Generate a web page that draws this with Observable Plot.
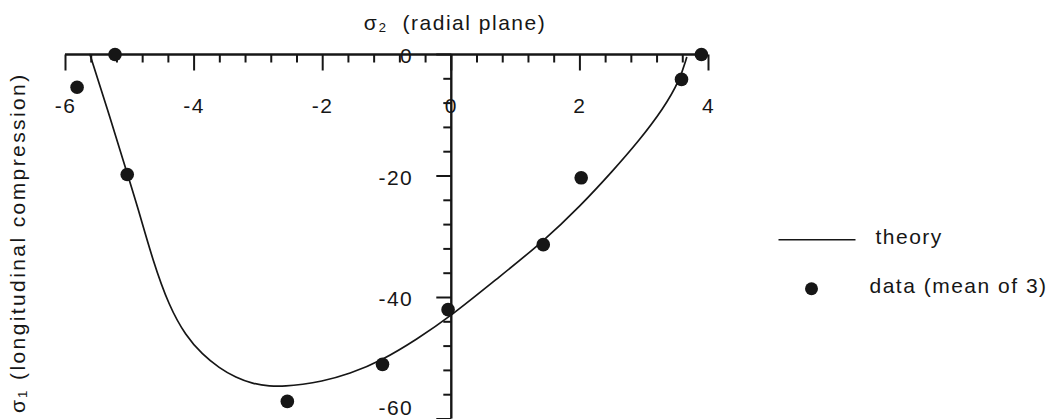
<!DOCTYPE html>
<html>
<head>
<meta charset="utf-8">
<script src="https://cdn.jsdelivr.net/npm/d3@7"></script>
<script src="https://cdn.jsdelivr.net/npm/@observablehq/plot@0.6"></script>
<style>
html, body { margin: 0; padding: 0; background: #fff; }
#chart svg text { letter-spacing: 1.5px; }
</style>
</head>
<body>
<div id="chart"></div>
<script>
// Theory curve (sigma2, sigma1)
const theoryX = [-5.62, -5.3, -5.04, -4.88, -4.64, -4.39, -4.13, -3.87, -3.61, -3.35, -3.09, -2.83, -2.57, -2.31, -2.05, -1.58, -1.07, -0.54, 0, 0.7, 1.43, 2.02, 2.5, 2.92, 3.3, 3.55, 3.66];
const theoryY = [0, -10.6, -19.6, -25.0, -34.0, -41.4, -46.3, -49.4, -51.6, -53.2, -54.2, -54.6, -54.6, -54.3, -53.9, -52.6, -50.3, -46.9, -43.0, -37.0, -30.8, -24.8, -19.3, -14.2, -8.9, -4.3, -0.5];

// Measured data (mean of 3)
const dataX = [-5.82, -5.23, -5.04, -2.55, -1.07, -0.05, 1.43, 2.02, 3.58, 3.89];
const dataY = [-5.4, 0, -19.75, -57.1, -51.0, -42.0, -31.3, -20.3, -4.1, 0];

// Ticks
const xMajorTicks = [-6, -4, -2, 0, 2, 4];
const xMinorTicks = [-5.6, -5.2, -4.8, -4.4, -3.6, -3.2, -2.8, -2.4, -1.6, -1.2, -0.8, -0.4, 0.4, 0.8, 1.2, 1.6, 2.4, 2.8, 3.2, 3.6];
const yMajorTicks = [0, -20, -40, -60];
const yMinorTicks = [-4, -8, -12, -16, -24, -28, -32, -36, -44, -48, -52, -56];

// Texts
const xTitle = "σ₂  (radial plane)";
const yTitle = "σ₁ (longitudinal compression)";
const legendLabels = ["theory", "data (mean of 3)"];

const theory = theoryX.map((x, i) => ({x, y: theoryY[i]}));
const points = dataX.map((x, i) => ({x, y: dataY[i]}));

const ink = "#161616";
const font = "'Liberation Sans', Arial, Helvetica, sans-serif";
const tickDown = len => ({draw(ctx) { ctx.moveTo(0, 0); ctx.lineTo(0, len); }});
const tickLeft = len => ({draw(ctx) { ctx.moveTo(0, 0); ctx.lineTo(-len, 0); }});
const hLine = len => ({draw(ctx) { ctx.moveTo(-len / 2, 0); ctx.lineTo(len / 2, 0); }});

const xMin = xMajorTicks[0], xMax = xMajorTicks[xMajorTicks.length - 1];
const yMin = yMajorTicks[yMajorTicks.length - 1], yMax = yMajorTicks[0];
const xOrigin = xMajorTicks[3];

const chart = Plot.plot({
  width: 1053,
  height: 419,
  marginLeft: 65,
  marginRight: 345,
  marginTop: 54,
  marginBottom: 0.5,
  x: {domain: [xMin, xMax], axis: null},
  y: {domain: [yMin, yMax], axis: null},
  style: {fontFamily: font, fontSize: "21px", color: ink, background: "#fff", overflow: "visible"},
  marks: [
    // tick labels
    Plot.text(xMajorTicks, {x: d => d, y: yMax, dy: 52, text: d => String(d), fontSize: 21, fill: ink}),
    Plot.text(yMajorTicks.filter(d => d > yMin), {x: xOrigin, y: d => d, dx: -38, dy: 2, textAnchor: "end", text: d => String(d), fontSize: 21, fill: ink}),
    Plot.text(yMajorTicks.filter(d => d === yMin), {x: xOrigin, y: d => d, dx: -38, dy: -4, textAnchor: "end", lineAnchor: "bottom", text: d => String(d), fontSize: 21, fill: ink}),
    // titles
    Plot.text([xTitle], {frameAnchor: "top", dx: 68, dy: -31, textAnchor: "middle", lineAnchor: "middle", text: d => d, fontSize: 21, fill: ink}),
    Plot.text([yTitle], {frameAnchor: "left", rotate: -90, dx: -47, dy: 6, textAnchor: "middle", lineAnchor: "middle", text: d => d, fontSize: 21, fill: ink}),
    // axis lines
    Plot.ruleY([yMax], {x1: xMin, x2: xMax, stroke: ink, strokeWidth: 2.6}),
    Plot.ruleX([xOrigin], {y1: yMax, y2: yMin, stroke: ink, strokeWidth: 2.4}),
    // ticks
    Plot.dot(xMajorTicks, {x: d => d, y: yMax, symbol: tickDown(16), r: 4, stroke: ink, strokeWidth: 2, fill: "none"}),
    Plot.dot(xMinorTicks, {x: d => d, y: yMax, symbol: tickDown(8), r: 4, stroke: ink, strokeWidth: 2, fill: "none"}),
    Plot.dot(yMajorTicks, {x: xOrigin, y: d => d, symbol: tickLeft(15), r: 4, stroke: ink, strokeWidth: 2, fill: "none"}),
    Plot.dot(yMinorTicks, {x: xOrigin, y: d => d, symbol: tickLeft(8), r: 4, stroke: ink, strokeWidth: 2, fill: "none"}),
    // theory curve
    Plot.line(theory, {x: "x", y: "y", curve: "basis", stroke: ink, strokeWidth: 1.7}),
    // data points
    Plot.dot(points, {x: "x", y: "y", r: 6.8, fill: ink, stroke: "none"}),
    // legend
    Plot.dot([legendLabels[0]], {frameAnchor: "right", dx: 108.5, dy: 3, symbol: hLine(77), r: 4, stroke: ink, strokeWidth: 1.7, fill: "none"}),
    Plot.text([legendLabels[0]], {frameAnchor: "right", dx: 167, dy: 1, textAnchor: "start", lineAnchor: "middle", text: d => d, fontSize: 21, fill: ink}),
    Plot.dot([legendLabels[1]], {frameAnchor: "right", dx: 103, dy: 52, r: 6.5, fill: ink, stroke: "none"}),
    Plot.text([legendLabels[1]], {frameAnchor: "right", dx: 161, dy: 50, textAnchor: "start", lineAnchor: "middle", text: d => d, fontSize: 21, fill: ink})
  ]
});

// wider tracking on the rotated axis title, as in the scan
d3.select(chart).selectAll("text").filter(function() { return this.textContent === yTitle; })
  .style("letter-spacing", "2.4px");

document.getElementById("chart").appendChild(chart);
</script>
</body>
</html>
